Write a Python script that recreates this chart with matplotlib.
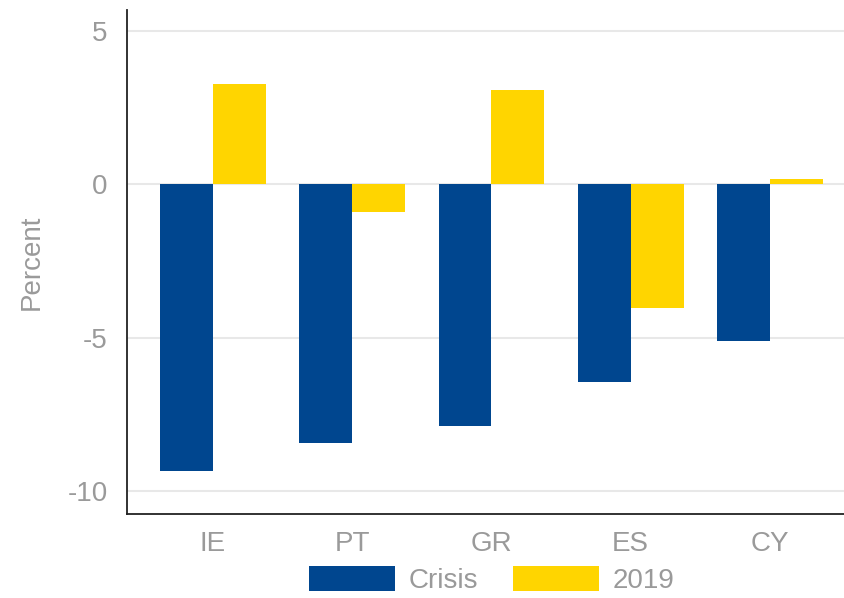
import matplotlib
matplotlib.use('Agg')
import matplotlib.pyplot as plt
import numpy as np

countries = ['IE', 'PT', 'GR', 'ES', 'CY']
crisis = [-9.34, -8.43, -7.88, -6.45, -5.11]
y2019 = [3.26, -0.92, 3.06, -4.03, 0.16]

plt.rcParams['font.family'] = ['Liberation Sans', 'DejaVu Sans']

blue = '#00468f'
yellow = '#ffd500'
grey = '#9a9a9a'

fig = plt.figure(figsize=(8.45, 5.98), dpi=100)
ax = fig.add_axes([127 / 845, 1 - 514 / 598, 1 - 127 / 845, (514 - 10) / 598])

x = np.arange(len(countries))
w = 0.38
ax.bar(x - w / 2, crisis, w, color=blue, label='Crisis', zorder=3)
ax.bar(x + w / 2, y2019, w, color=yellow, label='2019', zorder=3)

ax.set_xlim(-0.618, 4.54)
ax.set_ylim(-10.75, 5.67)
ax.set_yticks([5, 0, -5, -10])
ax.set_yticklabels(['5', '0', '-5', '-10'])
ax.set_xticks(x)
ax.set_xticklabels(countries)
ax.grid(axis='y', color='#e8e8e8', linewidth=1.5, zorder=0)
ax.tick_params(length=0, labelsize=20, labelcolor=grey)
ax.tick_params(axis='x', pad=12)
ax.tick_params(axis='y', pad=14)
ax.set_ylabel('Percent', fontsize=20, color=grey, labelpad=16)

for s in ['top', 'right']:
    ax.spines[s].set_visible(False)
for s in ['left', 'bottom']:
    ax.spines[s].set_linewidth(1.3)
    ax.spines[s].set_color('#222222')

fig.legend(loc='center', bbox_to_anchor=(0.582, 0.03), ncol=2, frameon=False,
           fontsize=20, labelcolor=grey, handlelength=3.1, handleheight=1.0,
           handletextpad=0.5, columnspacing=1.25, borderpad=0)

fig.savefig('out.png', dpi=100)
